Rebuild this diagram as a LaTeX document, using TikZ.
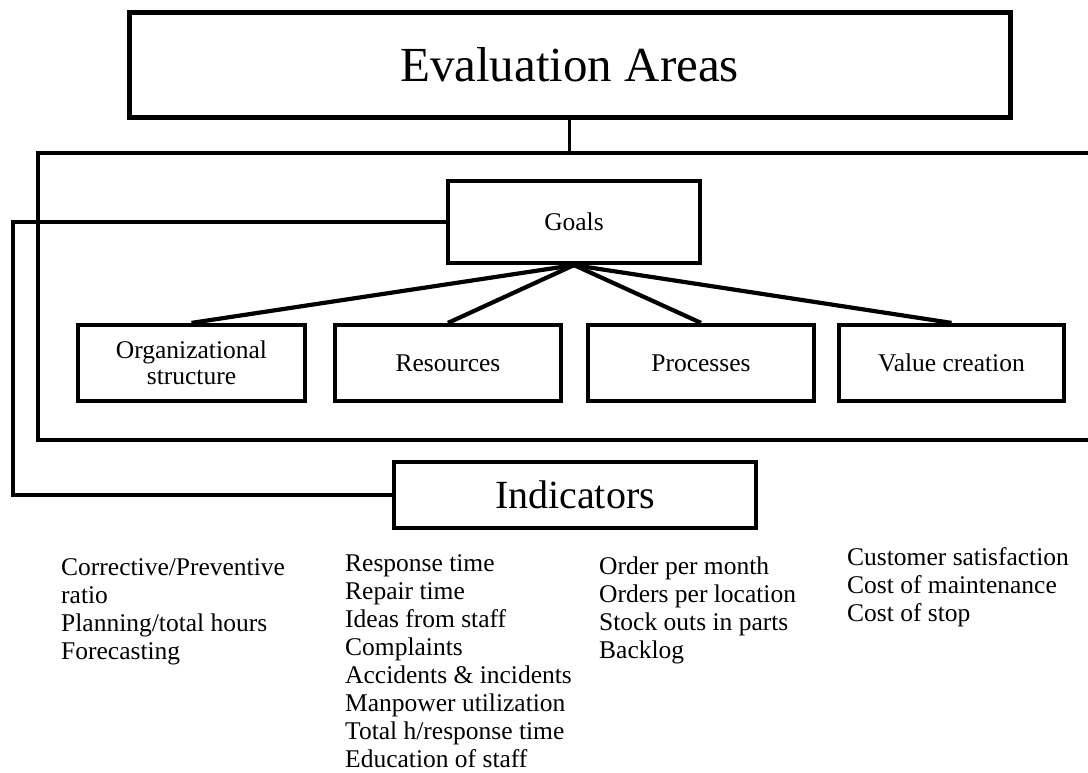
\documentclass[tikz,border=0pt]{standalone}
\usepackage{fontspec}
\setmainfont{Liberation Serif}
\begin{document}
\begin{tikzpicture}[x=1pt,y=-1pt,
  box/.style={draw=black,line width=4.2pt,fill=white,inner sep=0pt,
    minimum height=76pt,align=center,font=\fontsize{25.5}{27}\selectfont},
  childbox/.style={box,minimum width=226pt},
  link/.style={draw=black,line width=4.2pt},
  txt/.style={anchor=base west,inner sep=0pt,align=left,
    font=\fontsize{25.5}{28}\selectfont}]
\useasboundingbox (0,0) rectangle (1088,773);
% outer frame
\coordinate (outerTL) at (38,153);
\coordinate (outerBR) at (1110,440);
\draw[line width=3.8pt] (outerTL) rectangle (outerBR);
% top box
\node[box,line width=5pt,minimum width=881pt,minimum height=105pt,
  font=\fontsize{49}{52}\selectfont] (eval) at (569.5,65) {Evaluation Areas};
\draw[line width=3pt] (eval.south) -- (eval.south |- outerTL);
% goals
\node[box,minimum width=252pt,minimum height=82pt] (goals) at (574,222) {Goals};
% children
\node[childbox,minimum width=227pt,text depth=0pt] (org) at (191.5,363) {Organizational\\[-1pt]structure};
\node[childbox] (res) at (448,363) {Resources};
\node[childbox] (proc) at (701,363) {Processes};
\node[childbox,minimum width=225pt] (val) at (951.5,363) {Value creation};
\foreach \c in {org,res,proc,val}
  \draw[link] (goals.south) -- (\c.north);
% indicators
\node[box,minimum width=362pt,minimum height=66pt,
  font=\fontsize{40}{44}\selectfont] (ind) at (575,495) {Indicators};
\coordinate (fbtop) at (13,222);
\draw[link,line join=miter] (goals.west) -- (fbtop) -- (fbtop |- ind.west) -- (ind.west);
% indicator lists (anchored at the baseline of their last line)
\node[txt] (l1) at (61,659) {Corrective/Preventive\\ratio\\Planning/total hours\\Forecasting};
\node[txt] (l2) at (345,767) {Response time\\Repair time\\Ideas from staff\\Complaints\\Accidents \& incidents\\Manpower utilization\\Total h/response time\\Education of staff};
\node[txt] (l3) at (599,658) {Order per month\\Orders per location\\Stock outs in parts\\Backlog};
\node[txt] (l4) at (847,621) {Customer satisfaction\\Cost of maintenance\\Cost of stop};
\end{tikzpicture}
\end{document}
